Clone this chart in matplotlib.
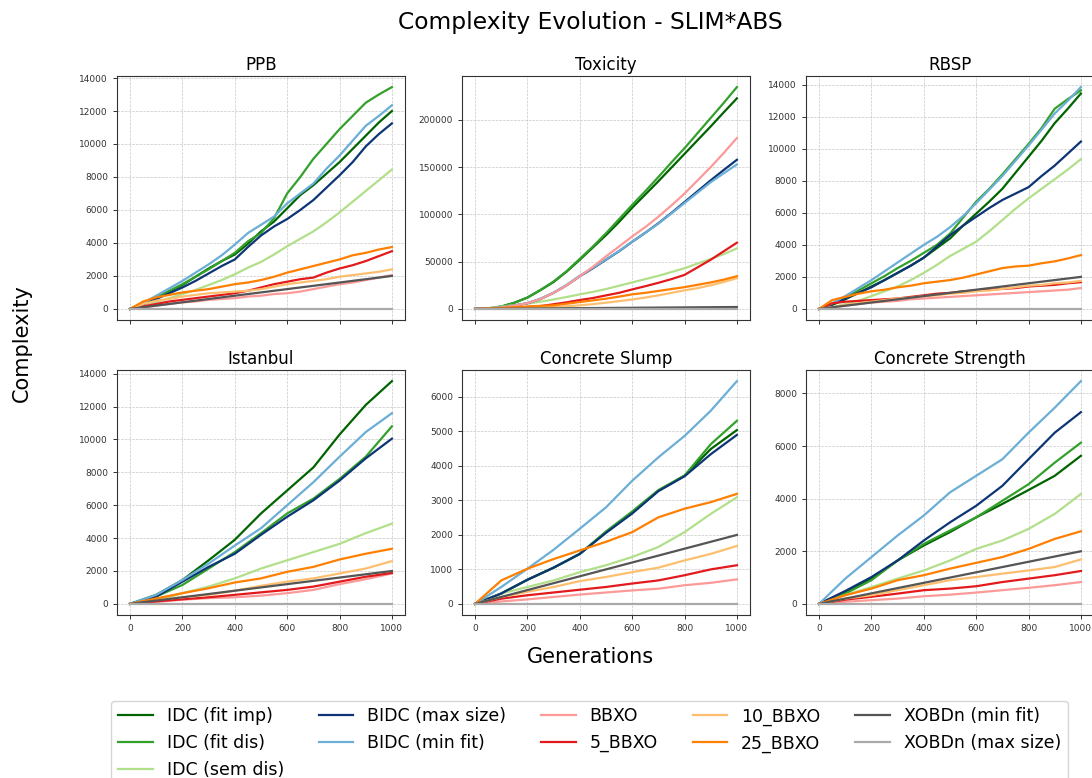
import matplotlib
matplotlib.use("Agg")
import matplotlib.pyplot as plt

# ---------------------------------------------------------------- data
GEN_FINE = list(range(0, 1001, 50))
GEN_COARSE = list(range(0, 1001, 100))

SERIES = ["IDC (fit imp)", "IDC (fit dis)", "IDC (sem dis)",
          "BIDC (max size)", "BIDC (min fit)",
          "BBXO", "5_BBXO", "10_BBXO", "25_BBXO",
          "XOBDn (min fit)", "XOBDn (max size)"]

COLORS = ["#006400", "#33a02c", "#b2df8a",
          "#0d3575", "#6baed6",
          "#fb9a99", "#e31a1c", "#fdbf6f", "#ff7f00",
          "#555555", "#aaaaaa"]

PPB = {
    "IDC (fit imp)":   [0, 300, 650, 1050, 1450, 1950, 2450, 2900, 3300, 3950, 4700, 5300, 6100, 6900, 7500, 8200, 8900, 9700, 10500, 11300, 12000],
    "IDC (fit dis)":   [0, 320, 700, 1100, 1500, 1950, 2400, 2900, 3400, 4100, 4600, 5500, 7000, 8000, 9100, 10000, 10900, 11700, 12500, 13000, 13450],
    "IDC (sem dis)":   [0, 200, 420, 650, 900, 1150, 1450, 1750, 2100, 2500, 2850, 3300, 3800, 4250, 4700, 5250, 5850, 6500, 7150, 7800, 8450],
    "BIDC (max size)": [0, 280, 600, 950, 1300, 1700, 2150, 2600, 3000, 3750, 4450, 5000, 5450, 6000, 6600, 7350, 8100, 8900, 9850, 10600, 11250],
    "BIDC (min fit)":  [0, 350, 800, 1250, 1700, 2200, 2700, 3250, 3900, 4600, 5100, 5600, 6400, 7000, 7600, 8500, 9300, 10200, 11100, 11700, 12350],
    "BBXO":            [0, 100, 200, 300, 400, 450, 550, 600, 650, 750, 800, 900, 950, 1050, 1200, 1350, 1500, 1600, 1750, 1900, 2050],
    "5_BBXO":          [0, 150, 300, 450, 550, 650, 750, 850, 950, 1100, 1300, 1500, 1650, 1800, 1900, 2200, 2450, 2650, 2900, 3200, 3500],
    "10_BBXO":         [0, 300, 500, 600, 750, 850, 950, 1000, 1050, 1100, 1200, 1350, 1500, 1600, 1700, 1800, 1950, 2050, 2150, 2250, 2400],
    "25_BBXO":         [0, 450, 700, 850, 1000, 1100, 1200, 1350, 1500, 1600, 1750, 1950, 2200, 2400, 2600, 2800, 3000, 3250, 3400, 3600, 3750],
    "XOBDn (min fit)": [0, 100, 200, 300, 400, 500, 600, 700, 800, 900, 1000, 1100, 1200, 1300, 1400, 1500, 1600, 1700, 1800, 1900, 2000],
    "XOBDn (max size)": [0] * 21,
}

TOXICITY = {
    "IDC (fit imp)":   [0, 500, 2500, 6500, 12000, 20000, 28500, 39500, 52000, 65000, 78000, 92000, 107000, 121000, 135000, 149500, 164000, 178500, 193000, 208000, 222700],
    "IDC (fit dis)":   [0, 500, 2500, 6500, 12000, 20000, 29000, 40000, 53000, 66000, 80000, 95000, 110000, 124500, 139500, 155000, 170000, 186000, 202000, 218000, 234600],
    "IDC (sem dis)":   [0, 800, 2400, 4000, 5600, 7600, 10000, 12600, 15400, 18000, 21000, 24500, 28000, 31500, 35000, 39000, 43000, 48000, 52800, 58000, 64000],
    "BIDC (max size)": [0, 300, 1500, 3500, 6000, 10500, 17000, 25000, 34600, 43000, 52000, 61000, 71000, 80500, 90600, 101500, 113000, 124500, 136000, 147000, 157700],
    "BIDC (min fit)":  [0, 300, 1500, 3600, 6200, 10800, 17300, 25500, 35200, 43500, 52300, 61200, 71000, 80500, 90300, 101000, 112000, 123000, 134000, 143500, 152800],
    "BBXO":            [0, 300, 1500, 3500, 6000, 10500, 17000, 25000, 34600, 44500, 55600, 66000, 76600, 86500, 97500, 109500, 122000, 136000, 150000, 165000, 180800],
    "5_BBXO":          [0, 200, 600, 1200, 2000, 3000, 4900, 7000, 9400, 11500, 14300, 17000, 20600, 24000, 27600, 31500, 36000, 44000, 52000, 61000, 70000],
    "10_BBXO":         [0, 200, 500, 900, 1300, 1600, 2000, 2800, 3800, 5000, 6600, 8200, 10000, 12000, 14300, 17000, 19600, 22000, 25000, 28500, 32500],
    "25_BBXO":         [0, 300, 1000, 1800, 2600, 3200, 3800, 5500, 7300, 9000, 10800, 13000, 15400, 17000, 19000, 21000, 23000, 25500, 28000, 31000, 34600],
    "XOBDn (min fit)": [0, 100, 200, 300, 400, 500, 600, 700, 800, 900, 1000, 1100, 1200, 1300, 1400, 1500, 1600, 1700, 1800, 1900, 2000],
    "XOBDn (max size)": [0] * 21,
}

RBSP = {
    "IDC (fit imp)":   [0, 250, 600, 1000, 1400, 1800, 2250, 2700, 3200, 3800, 4400, 5200, 5950, 6700, 7500, 8500, 9500, 10500, 11600, 12500, 13450],
    "IDC (fit dis)":   [0, 300, 700, 1150, 1600, 2050, 2550, 3000, 3500, 4000, 4700, 5700, 6700, 7500, 8400, 9350, 10300, 11300, 12500, 13100, 13650],
    "IDC (sem dis)":   [0, 100, 300, 500, 800, 1100, 1400, 1800, 2250, 2750, 3300, 3750, 4200, 4850, 5550, 6250, 6900, 7500, 8100, 8700, 9350],
    "BIDC (max size)": [0, 300, 650, 1000, 1350, 1800, 2250, 2700, 3200, 3900, 4600, 5200, 5750, 6300, 6800, 7200, 7600, 8300, 8950, 9700, 10450],
    "BIDC (min fit)":  [0, 350, 800, 1300, 1800, 2350, 2900, 3450, 4000, 4500, 5100, 5800, 6600, 7450, 8300, 9250, 10200, 11200, 12200, 13000, 13850],
    "BBXO":            [0, 100, 200, 300, 400, 450, 500, 600, 650, 700, 750, 800, 850, 900, 950, 1000, 1050, 1100, 1150, 1200, 1300],
    "5_BBXO":          [0, 350, 450, 500, 550, 600, 650, 750, 850, 950, 1000, 1100, 1150, 1200, 1250, 1300, 1400, 1450, 1500, 1600, 1670],
    "10_BBXO":         [0, 100, 250, 350, 450, 550, 650, 700, 800, 850, 950, 1000, 1100, 1150, 1250, 1350, 1450, 1500, 1600, 1650, 1750],
    "25_BBXO":         [0, 550, 750, 950, 1100, 1200, 1350, 1450, 1600, 1700, 1800, 1950, 2150, 2350, 2550, 2650, 2700, 2850, 2970, 3150, 3360],
    "XOBDn (min fit)": [0, 100, 200, 300, 400, 500, 600, 700, 800, 900, 1000, 1100, 1200, 1300, 1400, 1500, 1600, 1700, 1800, 1900, 2000],
    "XOBDn (max size)": [0] * 21,
}

ISTANBUL = {
    "IDC (fit imp)":   [0, 550, 1450, 2650, 3900, 5500, 6900, 8300, 10300, 12100, 13550],
    "IDC (fit dis)":   [0, 450, 1150, 2150, 3150, 4300, 5500, 6400, 7600, 8950, 10800],
    "IDC (sem dis)":   [0, 200, 650, 1050, 1550, 2150, 2650, 3150, 3650, 4300, 4880],
    "BIDC (max size)": [0, 450, 1350, 2250, 3050, 4200, 5300, 6300, 7500, 8850, 10050],
    "BIDC (min fit)":  [0, 550, 1450, 2450, 3550, 4600, 6000, 7400, 8950, 10450, 11600],
    "BBXO":            [0, 120, 250, 350, 400, 500, 650, 850, 1200, 1500, 1850],
    "5_BBXO":          [0, 150, 280, 400, 550, 700, 850, 1050, 1350, 1650, 1880],
    "10_BBXO":         [0, 250, 400, 550, 800, 1100, 1350, 1550, 1850, 2150, 2600],
    "25_BBXO":         [0, 330, 650, 950, 1300, 1550, 1950, 2250, 2700, 3050, 3350],
    "XOBDn (min fit)": [0, 200, 400, 600, 800, 1000, 1200, 1400, 1600, 1800, 2000],
    "XOBDn (max size)": [0] * 11,
}

CONCRETE_SLUMP = {
    "IDC (fit imp)":   [0, 300, 700, 1050, 1450, 2080, 2650, 3280, 3720, 4490, 5040],
    "IDC (fit dis)":   [0, 300, 700, 1050, 1450, 2100, 2680, 3300, 3720, 4630, 5310],
    "IDC (sem dis)":   [0, 300, 490, 680, 920, 1120, 1360, 1650, 2080, 2610, 3090],
    "BIDC (max size)": [0, 300, 700, 1050, 1450, 2060, 2620, 3270, 3700, 4340, 4900],
    "BIDC (min fit)":  [0, 490, 1020, 1570, 2180, 2800, 3570, 4250, 4870, 5600, 6460],
    "BBXO":            [0, 70, 130, 200, 270, 330, 390, 440, 540, 610, 710],
    "5_BBXO":          [0, 150, 250, 330, 410, 490, 590, 680, 830, 1000, 1120],
    "10_BBXO":         [0, 200, 350, 490, 660, 780, 920, 1050, 1260, 1450, 1680],
    "25_BBXO":         [0, 680, 1020, 1300, 1550, 1800, 2080, 2510, 2760, 2950, 3190],
    "XOBDn (min fit)": [0, 200, 400, 600, 800, 1000, 1200, 1400, 1600, 1800, 2000],
    "XOBDn (max size)": [0] * 11,
}

CONCRETE_STRENGTH = {
    "IDC (fit imp)":   [0, 450, 960, 1650, 2220, 2730, 3290, 3800, 4330, 4870, 5630],
    "IDC (fit dis)":   [0, 390, 900, 1650, 2280, 2790, 3290, 3920, 4550, 5370, 6130],
    "IDC (sem dis)":   [0, 330, 640, 960, 1270, 1650, 2090, 2410, 2850, 3420, 4180],
    "BIDC (max size)": [0, 490, 1020, 1650, 2410, 3100, 3730, 4490, 5500, 6510, 7290],
    "BIDC (min fit)":  [0, 960, 1780, 2600, 3360, 4240, 4870, 5500, 6510, 7460, 8470],
    "BBXO":            [0, 80, 140, 200, 290, 350, 430, 520, 610, 710, 830],
    "5_BBXO":          [0, 160, 270, 390, 520, 580, 670, 830, 960, 1090, 1250],
    "10_BBXO":         [0, 200, 330, 520, 710, 900, 1020, 1150, 1270, 1400, 1690],
    "25_BBXO":         [0, 330, 580, 900, 1090, 1340, 1560, 1780, 2090, 2470, 2760],
    "XOBDn (min fit)": [0, 200, 400, 600, 800, 1000, 1200, 1400, 1600, 1800, 2000],
    "XOBDn (max size)": [0] * 11,
}

PANELS = [
    ("PPB", GEN_FINE, PPB),
    ("Toxicity", GEN_FINE, TOXICITY),
    ("RBSP", GEN_FINE, RBSP),
    ("Istanbul", GEN_COARSE, ISTANBUL),
    ("Concrete Slump", GEN_COARSE, CONCRETE_SLUMP),
    ("Concrete Strength", GEN_COARSE, CONCRETE_STRENGTH),
]

# ---------------------------------------------------------------- figure
W, H = 1092, 778
fig = plt.figure(figsize=(W / 100, H / 100), dpi=100)
plt.rcParams["font.family"] = ["DejaVu Sans"]

col_left = [117, 462, 806]
ax_w = 288
rows = [(76, 320), (370, 615)]

axes = []
for i, (name, gens, data) in enumerate(PANELS):
    r, c = divmod(i, 3)
    top, bottom = rows[r]
    ax = fig.add_axes([col_left[c] / W, 1 - bottom / H, ax_w / W, (bottom - top) / H])
    for label, color in zip(SERIES, COLORS):
        ax.plot(gens, data[label], color=color, lw=1.6, label=label)
    ax.set_title(name, fontsize=12, pad=4)
    ax.grid(True, linestyle="--", linewidth=0.5, color="#b0b0b0", alpha=0.7)
    ax.tick_params(labelsize=6.5, colors="#333333", length=3, width=0.7)
    ax.set_xticks([0, 200, 400, 600, 800, 1000])
    for s in ax.spines.values():
        s.set_color("#333333")
        s.set_linewidth(0.8)
    if r == 0:
        ax.tick_params(labelbottom=False)
    axes.append(ax)

fig.text(590 / W, 1 - 22 / H, "Complexity Evolution - SLIM*ABS",
         ha="center", va="center", fontsize=16.8)
fig.text(22 / W, 1 - 343 / H, "Complexity", rotation=90,
         ha="center", va="center", fontsize=15)
fig.text(590 / W, 1 - 657 / H, "Generations",
         ha="center", va="center", fontsize=15)

handles, labels = axes[0].get_legend_handles_labels()
fig.legend(handles, labels, loc="upper center", ncol=5,
           bbox_to_anchor=(589.5 / W, 1 - 700.5 / H), borderaxespad=0,
           fontsize=12.5, frameon=True)

fig.savefig("out.png", dpi=100)
